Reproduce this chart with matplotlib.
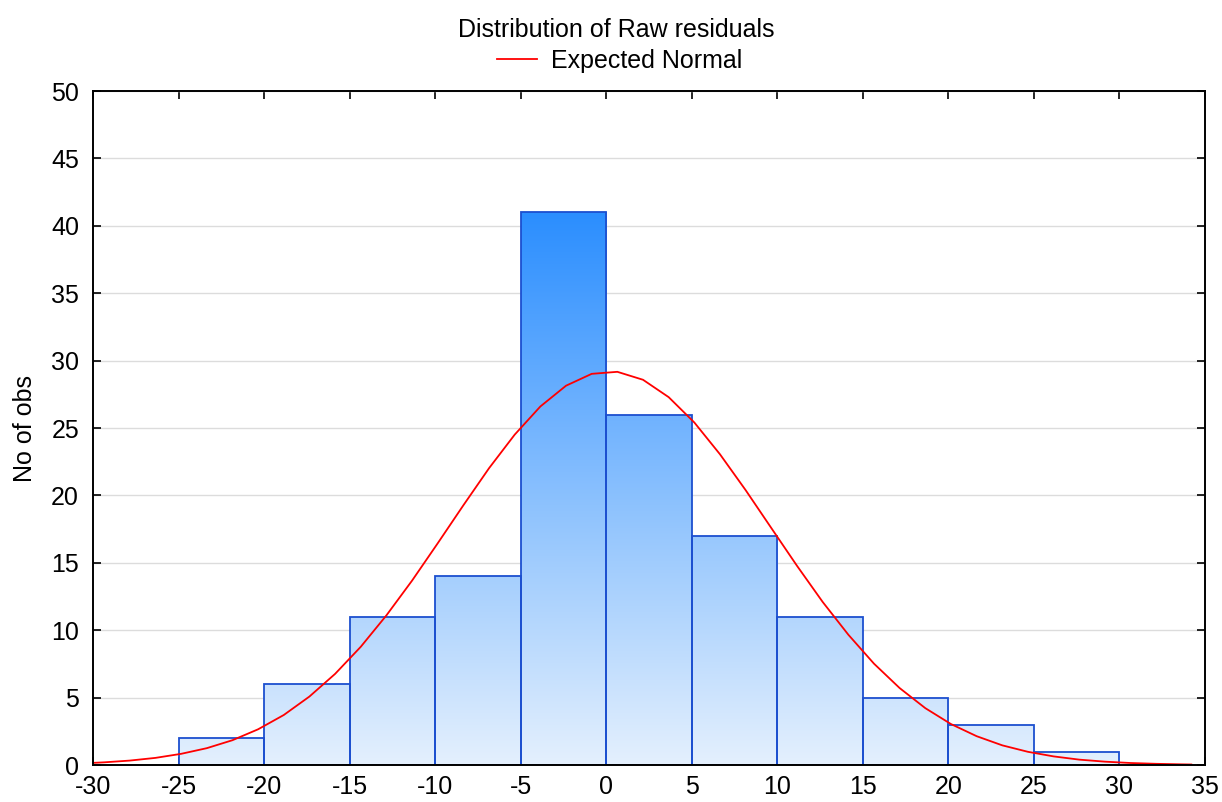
import numpy as np
import matplotlib
matplotlib.use("Agg")
import matplotlib.pyplot as plt
from matplotlib.colors import LinearSegmentedColormap
from matplotlib.lines import Line2D

plt.rcParams['font.family'] = ['Liberation Sans', 'DejaVu Sans']

# histogram of raw residuals, bin width 5
bin_edges = [-25, -20, -15, -10, -5, 0, 5, 10, 15, 20, 25, 30]
counts = [2, 6, 11, 14, 41, 26, 17, 11, 5, 3, 1]

# expected normal curve (counts per bin)
curve_x = [-30.0, -29.35, -27.85, -26.35, -24.85, -23.35, -21.85, -20.35, -18.85,
           -17.35, -15.85, -14.35, -12.85, -11.35, -9.85, -8.35, -6.85, -5.35,
           -3.85, -2.35, -0.85, 0.65, 2.15, 3.65, 5.15, 6.65, 8.15, 9.65, 11.15,
           12.65, 14.15, 15.65, 17.15, 18.65, 20.15, 21.65, 23.15, 24.65, 26.15,
           27.65, 29.15, 30.65, 32.15, 33.65, 34.2]
curve_y = [0.16, 0.20, 0.33, 0.53, 0.83, 1.25, 1.84, 2.65, 3.71, 5.08, 6.76,
           8.77, 11.10, 13.68, 16.45, 19.27, 22.02, 24.51, 26.60, 28.14, 29.02,
           29.17, 28.58, 27.29, 25.41, 23.05, 20.39, 17.58, 14.78, 12.10, 9.67,
           7.52, 5.71, 4.22, 3.04, 2.14, 1.46, 0.98, 0.64, 0.40, 0.25, 0.15,
           0.09, 0.05, 0.04]

x_ticks = list(range(-30, 40, 5))
y_ticks = list(range(0, 55, 5))

fig = plt.figure(figsize=(12.22, 8.02), dpi=100)
ax = fig.add_axes([0.0761, 0.0461, 0.91, 0.8404])

grad = LinearSegmentedColormap.from_list("bars", ["#e4f0fd", "#2b8eff"])
top = max(counts)
img = np.linspace(0, 1, 256).reshape(-1, 1)

for left, right, c in zip(bin_edges[:-1], bin_edges[1:], counts):
    rect = plt.Rectangle((left, 0), right - left, c, facecolor='none',
                         edgecolor='#1c4fcf', linewidth=1.3, zorder=3)
    ax.add_patch(rect)
    im = ax.imshow(img, cmap=grad, origin='lower', aspect='auto',
                   extent=(left, right, 0, top), zorder=2, interpolation='bilinear')
    im.set_clip_path(rect)

ax.set_xlim(-30, 35)
ax.set_ylim(0, 50)

ax.plot(curve_x, curve_y, color='#ff0000', linewidth=1.3, zorder=4)

ax.set_xticks(x_ticks)
ax.set_yticks(y_ticks)
ax.set_xticklabels([str(t) for t in x_ticks])
ax.set_yticklabels([str(t) for t in y_ticks])
ax.tick_params(direction='in', length=6, width=1.2, labelsize=18,
               top=True, right=True, colors='black')
ax.tick_params(axis='x', pad=7)
ax.tick_params(axis='y', pad=10)
ax.grid(axis='y', color='#dcdcdc', linewidth=1.0, zorder=0)
ax.set_axisbelow(True)
for sp in ax.spines.values():
    sp.set_linewidth(1.4)
    sp.set_zorder(5)

ax.set_ylabel("No of obs", fontsize=18, labelpad=10)

fig.text(0.504, 0.963, "Distribution of Raw residuals", ha='center', va='center',
         fontsize=18)
handle = Line2D([], [], color='#ff0000', linewidth=1.3)
fig.legend([handle], ["Expected Normal"], loc='center', bbox_to_anchor=(0.507, 0.924),
           frameon=False, fontsize=18, handlelength=1.6, handletextpad=0.55)

fig.savefig("out.png", dpi=100)
